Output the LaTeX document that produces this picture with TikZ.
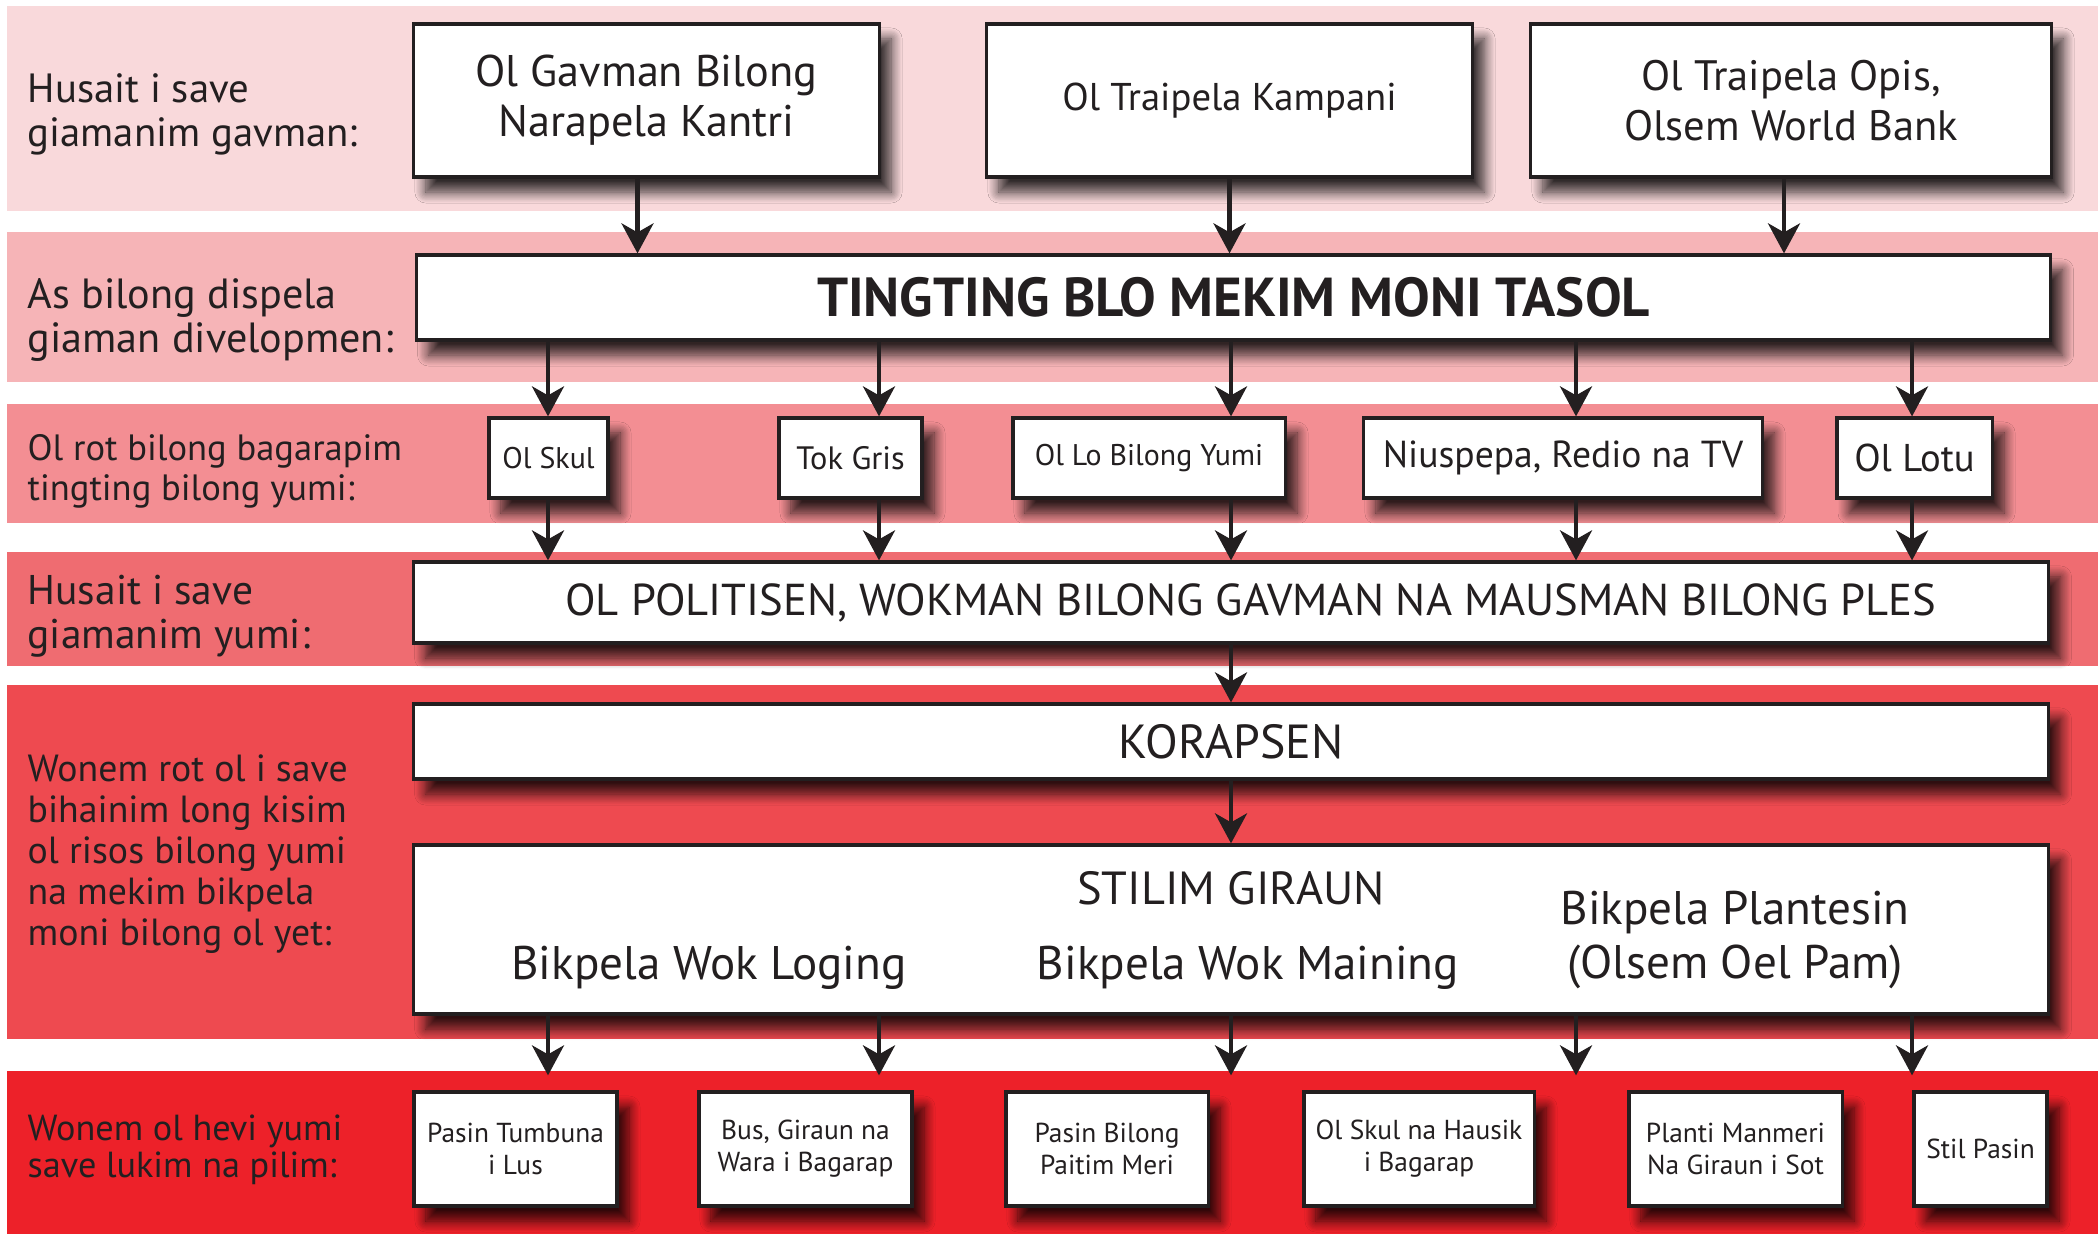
\documentclass[tikz,border=0pt]{standalone}
\usepackage{fontspec}
\setmainfont{PT Sans}
\usetikzlibrary{arrows.meta,shadows.blur}
\definecolor{ink}{RGB}{35,31,32}
\definecolor{bandA}{RGB}{249,217,219}
\definecolor{bandB}{RGB}{246,180,183}
\definecolor{bandC}{RGB}{243,142,147}
\definecolor{bandD}{RGB}{239,108,113}
\definecolor{bandE}{RGB}{238,74,80}
\definecolor{bandF}{RGB}{237,33,41}

\begin{document}
\begin{tikzpicture}[x=0.01cm,y=-0.01cm]
\tikzset{box/.style = {shape=rectangle,draw=ink,fill=white,line width=0.9pt,inner sep=0pt,align=center,text=ink,
  blur shadow={shadow xshift=0.12cm,shadow yshift=-0.15cm,shadow blur radius=0.11cm,shadow blur steps=10,shadow opacity=80}}}
\tikzset{edge/.style = {-{Stealth[length=0.3cm,width=0.32cm,inset=0.09cm]},line width=1.2pt,draw=ink}}
\tikzset{side/.style = {anchor=west,align=left,text=ink,inner sep=0pt}}
\useasboundingbox (0,0) rectangle (2098,1234);
% bands
\fill[bandA] (7,6) rectangle (2098,211);
\fill[bandB] (7,232) rectangle (2098,382);
\fill[bandC] (7,404) rectangle (2098,523);
\fill[bandD] (7,552) rectangle (2098,666);
\fill[bandE] (7,685) rectangle (2098,1039);
\fill[bandF] (7,1071) rectangle (2098,1234);
% row texts
\node[side,font=\fontsize{11.6}{12.5}\selectfont] (l1) at (27,114) {Husait i save\\giamanim gavman:};
\node[side,font=\fontsize{12}{12.5}\selectfont] (l2) at (27,320) {As bilong dispela\\giaman divelopmen:};
\node[side,font=\fontsize{10.4}{11.4}\selectfont] (l3) at (27,471) {Ol rot bilong bagarapim\\tingting bilong yumi:};
\node[side,font=\fontsize{11.8}{12.5}\selectfont] (l4) at (27,616) {Husait i save\\giamanim yumi:};
\node[side,font=\fontsize{10.75}{11.7}\selectfont] (l5) at (27,854) {Wonem rot ol i save\\bihainim long kisim\\ol risos bilong yumi\\na mekim bikpela\\moni bilong ol yet:};
\node[side,font=\fontsize{10.3}{9.1}\selectfont] (l6) at (27,1150) {Wonem ol hevi yumi\\save lukim na pilim:};
% columns
\coordinate (k1) at (548,0);
\coordinate (k2) at (879,0);
\coordinate (k3) at (1231,0);
\coordinate (k4) at (1576,0);
\coordinate (k5) at (1912,0);
% boxes
\node[box,minimum width=4.65cm,minimum height=1.53cm,font=\fontsize{12.6}{14.2}\selectfont] (g1) at (646.5,100.5) {Ol Gavman Bilong\\Narapela Kantri};
\node[box,minimum width=4.85cm,minimum height=1.53cm,font=\fontsize{11}{14.2}\selectfont] (g2) at (1229.5,100.5) {Ol Traipela Kampani};
\node[box,minimum width=5.20cm,minimum height=1.53cm,font=\fontsize{12.1}{14.2}\selectfont] (g3) at (1791,100.5) {Ol Traipela Opis,\\Olsem World Bank};
\node[box,minimum width=16.33cm,minimum height=0.85cm,font=\fontsize{15.6}{16}\bfseries\selectfont] (tt) at (1233.5,297.5) {TINGTING BLO MEKIM MONI TASOL};
\node[box,minimum width=1.19cm,minimum height=0.80cm,font=\fontsize{8.5}{10}\selectfont] (r1) at (548.5,458) {Ol Skul};
\node[box,minimum width=1.43cm,minimum height=0.80cm,font=\fontsize{9.2}{10}\selectfont] (r2) at (850.5,458) {Tok Gris};
\node[box,minimum width=2.72cm,minimum height=0.80cm,font=\fontsize{8.5}{10}\selectfont] (r3) at (1149,458) {Ol Lo Bilong Yumi};
\node[box,minimum width=3.98cm,minimum height=0.80cm,font=\fontsize{10.7}{12}\selectfont] (r4) at (1563,458) {Niuspepa, Redio na TV};
\node[box,minimum width=1.55cm,minimum height=0.80cm,font=\fontsize{11}{12}\selectfont] (r5) at (1914.5,458) {Ol Lotu};
\node[box,minimum width=16.34cm,minimum height=0.81cm,font=\fontsize{12.7}{14}\selectfont] (pol) at (1231,602.5) {\hspace*{0.4cm}OL POLITISEN, WOKMAN BILONG GAVMAN NA MAUSMAN BILONG PLES};
\node[box,minimum width=16.34cm,minimum height=0.75cm,font=\fontsize{13.6}{15}\selectfont] (kor) at (1231,741.5) {KORAPSEN};
\node[box,minimum width=16.34cm,minimum height=1.69cm] (big) at (1231,929.5) {};
\node[text=ink,font=\fontsize{13.2}{15}\selectfont] (stl) at (1231,888) {STILIM GIRAUN};
\node[text=ink,font=\fontsize{13.4}{15}\selectfont] (log) at (709,968) {Bikpela Wok Loging};
\node[text=ink,font=\fontsize{13.4}{15}\selectfont] (min) at (1248,968) {Bikpela Wok Maining};
\node[text=ink,align=center,font=\fontsize{13.4}{15.6}\selectfont] (pla) at (1735,940) {Bikpela Plantesin\\(Olsem Oel Pam)};
\node[box,minimum width=2.03cm,minimum height=1.14cm,font=\fontsize{7.8}{9.1}\selectfont] (h1) at (515.5,1149) {Pasin Tumbuna\\i Lus};
\node[box,minimum width=2.13cm,minimum height=1.14cm,font=\fontsize{7.8}{9.1}\selectfont] (h2) at (805.5,1149) {Bus, Giraun na\\Wara i Bagarap};
\node[box,minimum width=2.02cm,minimum height=1.14cm,font=\fontsize{7.8}{9.1}\selectfont] (h3) at (1107,1149) {Pasin Bilong\\Paitim Meri};
\node[box,minimum width=2.30cm,minimum height=1.14cm,font=\fontsize{7.8}{9.1}\selectfont] (h4) at (1419,1149) {Ol Skul na Hausik\\i Bagarap};
\node[box,minimum width=2.13cm,minimum height=1.14cm,font=\fontsize{7.8}{9.1}\selectfont] (h5) at (1735.5,1149) {Planti Manmeri\\Na Giraun i Sot};
\node[box,minimum width=1.33cm,minimum height=1.14cm,font=\fontsize{7.8}{9.1}\selectfont] (h6) at (1980.5,1149) {Stil Pasin};
% arrows
\draw[edge] ([xshift=-0.09cm]g1.south) -- ([xshift=-0.09cm]g1.south |- tt.north);
\draw[edge] (g2.south) -- (g2.south |- tt.north);
\draw[edge] ([xshift=-0.07cm]g3.south) -- ([xshift=-0.07cm]g3.south |- tt.north);
\draw[edge] (k1 |- tt.south) -- (k1 |- r1.north);
\draw[edge] (k2 |- tt.south) -- (k2 |- r2.north);
\draw[edge] (k3 |- tt.south) -- (k3 |- r3.north);
\draw[edge] (k4 |- tt.south) -- (k4 |- r4.north);
\draw[edge] (k5 |- tt.south) -- (k5 |- r5.north);
\draw[edge] (k1 |- r1.south) -- (k1 |- pol.north);
\draw[edge] (k2 |- r2.south) -- (k2 |- pol.north);
\draw[edge] (k3 |- r3.south) -- (k3 |- pol.north);
\draw[edge] (k4 |- r4.south) -- (k4 |- pol.north);
\draw[edge] (k5 |- r5.south) -- (k5 |- pol.north);
\draw[edge] (k3 |- pol.south) -- (k3 |- kor.north);
\draw[edge] (k3 |- kor.south) -- (k3 |- big.north);
\draw[edge,shorten >=0.15cm] (k1 |- big.south) -- (k1 |- h1.north);
\draw[edge,shorten >=0.15cm] (k2 |- big.south) -- (k2 |- h2.north);
\draw[edge,shorten >=0.15cm] (k3 |- big.south) -- (k3 |- h3.north);
\draw[edge,shorten >=0.15cm] (k4 |- big.south) -- (k4 |- h4.north);
\draw[edge,shorten >=0.15cm] (k5 |- big.south) -- (k5 |- h5.north);
\end{tikzpicture}
\end{document}
